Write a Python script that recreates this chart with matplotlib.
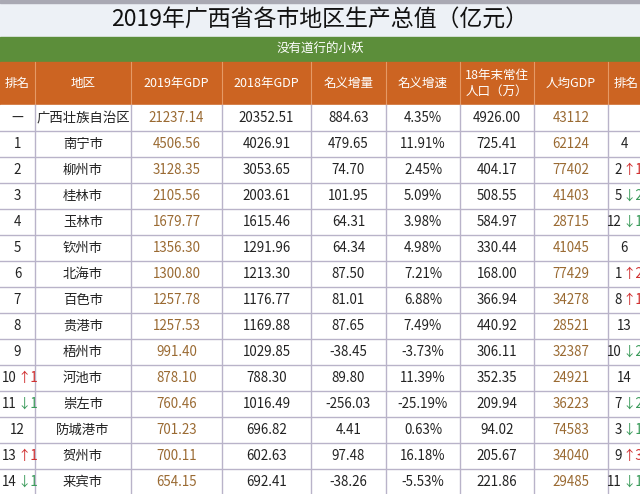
import matplotlib
matplotlib.use("Agg")
import matplotlib.pyplot as plt
from matplotlib.patches import Rectangle
from matplotlib import font_manager as fm
import glob

for f in glob.glob("/usr/share/fonts/**/*CJK*", recursive=True) + glob.glob("/usr/local/share/fonts/**/*CJK*", recursive=True):
    try:
        fm.fontManager.addfont(f)
    except Exception:
        pass
names = sorted({f.name for f in fm.fontManager.ttflist})
cjk = [n for n in names if "CJK" in n]
plt.rcParams['font.family'] = [n for n in ["Noto Sans CJK SC", "Noto Sans CJK JP"] if n in names] + cjk + ["DejaVu Sans"]

title = "2019年广西省各市地区生产总值（亿元）"
subtitle = "没有道行的小妖"
headers = ["排名", "地区", "2019年GDP", "2018年GDP", "名义增量", "名义增速", "18年末常住\n人口（万）", "人均GDP", "排名"]
ranks = ["—", "1", "2", "3", "4", "5", "6", "7", "8", "9", "10", "11", "12", "13", "14"]
rank_chg = ["", "", "", "", "", "", "", "", "", "", "↑1", "↓1", "", "↑1", "↓1"]
regions = ["广西壮族自治区", "南宁市", "柳州市", "桂林市", "玉林市", "钦州市", "北海市", "百色市", "贵港市", "梧州市", "河池市", "崇左市", "防城港市", "贺州市", "来宾市"]
gdp2019 = ["21237.14", "4506.56", "3128.35", "2105.56", "1679.77", "1356.30", "1300.80", "1257.78", "1257.53", "991.40", "878.10", "760.46", "701.23", "700.11", "654.15"]
gdp2018 = ["20352.51", "4026.91", "3053.65", "2003.61", "1615.46", "1291.96", "1213.30", "1176.77", "1169.88", "1029.85", "788.30", "1016.49", "696.82", "602.63", "692.41"]
inc = ["884.63", "479.65", "74.70", "101.95", "64.31", "64.34", "87.50", "81.01", "87.65", "-38.45", "89.80", "-256.03", "4.41", "97.48", "-38.26"]
rate = ["4.35%", "11.91%", "2.45%", "5.09%", "3.98%", "4.98%", "7.21%", "6.88%", "7.49%", "-3.73%", "11.39%", "-25.19%", "0.63%", "16.18%", "-5.53%"]
pop = ["4926.00", "725.41", "404.17", "508.55", "584.97", "330.44", "168.00", "366.94", "440.92", "306.11", "352.35", "209.94", "94.02", "205.67", "221.86"]
pcgdp = ["43112", "62124", "77402", "41403", "28715", "41045", "77429", "34278", "28521", "32387", "24921", "36223", "74583", "34040", "29485"]
pc_rank = ["", "4", "2", "5", "12", "6", "1", "8", "13", "10", "14", "7", "3", "9", "11"]
pc_chg = ["", "", "↑1", "↓2", "↓1", "", "↑2", "↑1", "", "↓2", "", "↓2", "↓1", "↑3", "↓1"]

fig = plt.figure(figsize=(6.4, 4.94), dpi=100)
ax = fig.add_axes([0, 0, 1, 1])
ax.set_xlim(0, 640); ax.set_ylim(494, 0); ax.axis('off')

xs = [0, 35, 131, 222, 311, 386, 460, 534, 608, 680]
line_c = "#B9B3C9"
ax.add_patch(Rectangle((0, 0), 640, 37, color="#EDF1F6"))
ax.add_patch(Rectangle((0, 0), 640, 3, color="#A9A9B3"))
ax.text(320, 20, title, ha='center', va='center', fontsize=16.5, color="#111111")
ax.add_patch(Rectangle((0, 37), 640, 25, color="#5C8E3A"))
ax.text(320, 49.5, subtitle, ha='center', va='center', fontsize=9, color="white")
ax.add_patch(Rectangle((0, 62), 640, 43, color="#CC6422"))
for i, h in enumerate(headers):
    ax.text((xs[i] + xs[i+1]) / 2 if i < 8 else 626, 83.5, h, ha='center', va='center',
            fontsize=9, color="white", linespacing=1.2)
for x in xs[1:9]:
    ax.plot([x, x], [62, 105], color="#E59A66", lw=0.8)
ax.add_patch(Rectangle((0, 105), 640, 389, color="white"))
rh = 26
brown = "#9A6A32"
fs = 9.6
for r in range(len(regions)):
    y0 = 105 + r * rh
    yc = y0 + rh / 2
    ax.plot([0, 640], [y0 + rh, y0 + rh], color=line_c, lw=1)
    cx = [(xs[i] + xs[i+1]) / 2 for i in range(8)]
    if rank_chg[r]:
        ax.text(17, yc, ranks[r], ha='right', va='center', fontsize=fs, color="#222")
        col = "#D03030" if "↑" in rank_chg[r] else "#3A9A5A"
        ax.text(17, yc, rank_chg[r], ha='left', va='center', fontsize=fs, color=col)
    else:
        ax.text(cx[0], yc, ranks[r], ha='center', va='center', fontsize=fs, color="#222")
    ax.text(cx[1], yc, regions[r], ha='center', va='center', fontsize=fs, color="#222")
    ax.text(cx[2], yc, gdp2019[r], ha='center', va='center', fontsize=fs, color=brown)
    ax.text(cx[3], yc, gdp2018[r], ha='center', va='center', fontsize=fs, color="#222")
    ax.text(cx[4], yc, inc[r], ha='center', va='center', fontsize=fs, color="#222")
    ax.text(cx[5], yc, rate[r], ha='center', va='center', fontsize=fs, color="#222")
    ax.text(cx[6], yc, pop[r], ha='center', va='center', fontsize=fs, color="#222")
    ax.text(cx[7], yc, pcgdp[r], ha='center', va='center', fontsize=fs, color=brown)
    if pc_chg[r]:
        ax.text(622, yc, pc_rank[r], ha='right', va='center', fontsize=fs, color="#222")
        col = "#D03030" if "↑" in pc_chg[r] else "#3A9A5A"
        ax.text(622, yc, pc_chg[r], ha='left', va='center', fontsize=fs, color=col)
    else:
        ax.text(624, yc, pc_rank[r], ha='center', va='center', fontsize=fs, color="#222")
for x in xs[1:9]:
    ax.plot([x, x], [105, 494], color=line_c, lw=1)
fig.savefig("out.png", dpi=100)
